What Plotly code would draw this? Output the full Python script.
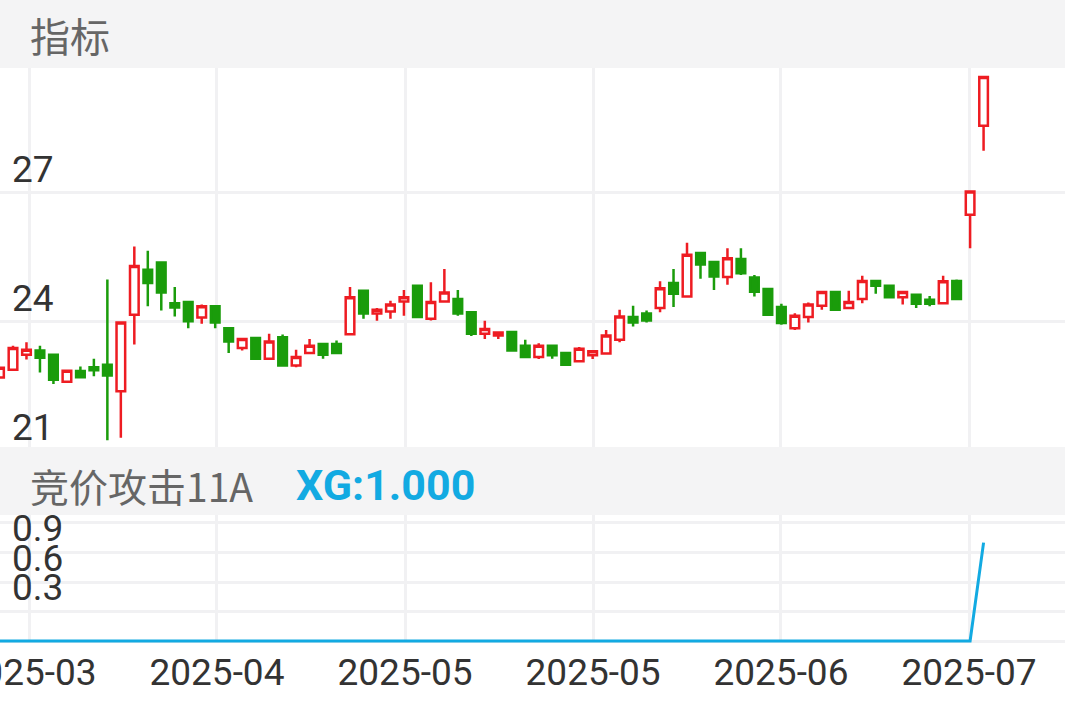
import plotly.graph_objects as go

# ---------------- data ----------------
candle_index = list(range(74))
opens = [22.70, 22.88, 23.23, 23.33, 23.23, 22.60, 22.85, 22.94, 23.00, 22.38,
         24.16, 25.21, 25.38, 24.43, 24.46, 24.10, 24.36, 23.85, 23.39, 23.62,
         23.14, 23.64, 22.98, 23.27, 23.48, 23.48, 23.71, 24.72, 24.19, 24.24,
         24.47, 24.84, 24.07, 24.47, 24.53, 24.22, 23.72, 23.68, 23.76, 23.44,
         23.18, 23.44, 23.27, 23.08, 23.22, 23.26, 23.58, 24.11, 24.19, 24.32,
         24.90, 24.59, 25.60, 25.39, 25.04, 25.46, 25.03, 24.76, 24.34, 23.85,
         24.11, 24.37, 24.69, 24.32, 24.53, 24.95, 24.84, 24.57, 24.63, 24.51,
         24.43, 24.95, 26.49, 28.56]
highs = [22.95, 23.44, 23.52, 23.44, 23.25, 22.87, 22.96, 23.14, 24.98, 24.00,
         25.75, 25.65, 25.40, 24.81, 24.47, 24.40, 24.37, 23.86, 23.61, 23.63,
         23.72, 23.70, 23.35, 23.60, 23.49, 23.56, 24.81, 24.73, 24.32, 24.49,
         24.74, 24.85, 24.92, 25.23, 24.74, 24.23, 24.02, 23.76, 23.77, 23.58,
         23.50, 23.45, 23.28, 23.41, 23.32, 23.81, 24.28, 24.37, 24.26, 24.94,
         25.23, 25.84, 25.61, 25.40, 25.71, 25.71, 25.09, 24.77, 24.42, 24.20,
         24.45, 24.70, 24.70, 24.72, 25.07, 24.96, 24.85, 24.70, 24.65, 24.60,
         25.07, 24.98, 27.04, 29.71]
lows = [22.68, 22.87, 23.12, 22.82, 22.55, 22.59, 22.70, 22.73, 21.24, 21.30,
        23.47, 24.36, 24.26, 24.12, 23.85, 23.95, 23.85, 23.27, 23.33, 23.13,
        23.13, 22.97, 22.94, 23.25, 23.14, 23.26, 23.70, 24.07, 24.02, 24.07,
        24.14, 24.10, 24.03, 24.45, 24.14, 23.67, 23.60, 23.60, 23.32, 23.17,
        23.13, 23.14, 22.99, 23.07, 23.13, 23.25, 23.52, 23.89, 23.98, 24.22,
        24.34, 24.58, 25.00, 24.74, 24.86, 25.09, 24.59, 24.14, 23.93, 23.81,
        23.98, 24.28, 24.27, 24.31, 24.43, 24.65, 24.56, 24.40, 24.32, 24.36,
        24.42, 24.51, 25.71, 27.98]
closes = [22.93, 23.39, 23.35, 23.16, 22.65, 22.86, 22.71, 22.87, 22.75, 23.98,
          25.30, 24.90, 24.68, 24.33, 24.01, 24.36, 23.98, 23.54, 23.60, 23.14,
          23.54, 22.98, 23.18, 23.44, 23.23, 23.27, 24.57, 24.19, 24.28, 24.40,
          24.57, 24.11, 24.46, 24.68, 24.19, 23.72, 23.83, 23.75, 23.33, 23.18,
          23.44, 23.22, 23.00, 23.37, 23.31, 23.68, 24.12, 23.98, 24.03, 24.78,
          24.65, 25.56, 25.33, 25.05, 25.48, 25.13, 24.70, 24.16, 23.97, 24.14,
          24.40, 24.69, 24.28, 24.46, 24.95, 24.84, 24.57, 24.69, 24.42, 24.42,
          24.94, 24.53, 27.03, 29.70]
xg_values = [0] * 73 + [1]

x_tick_positions = [2.19, 16.13, 30.08, 44.03, 57.97, 71.92]
x_tick_labels = ["2025-03", "2025-04", "2025-05", "2025-05", "2025-06", "2025-07"]
price_ticks = [21, 24, 27]
price_tick_labels = ["21", "24", "27"]
xg_ticks = [0, 0.3, 0.6, 0.9, 1.2]
xg_tick_labels = ["", "0.3", "0.6", "0.9", ""]

# ---------------- style ----------------
RED = "#ee1c22"
GREEN = "#1a9c0b"
BLUE = "#12aae2"
GRID = "#f1f1f3"
BAND = "#f4f4f5"
TICK_FONT = dict(family="Roboto, Noto Sans CJK SC", size=37, color="#333333")

fig = go.Figure()
fig.add_trace(go.Candlestick(
    x=candle_index, open=opens, high=highs, low=lows, close=closes,
    increasing=dict(line=dict(color=RED, width=2.5), fillcolor="#ffffff"),
    decreasing=dict(line=dict(color=GREEN, width=2.5), fillcolor=GREEN),
    whiskerwidth=0, xaxis="x", yaxis="y", showlegend=False, hoverinfo="skip",
))
fig.add_trace(go.Scatter(
    x=candle_index, y=xg_values, mode="lines",
    line=dict(color=BLUE, width=3), xaxis="x2", yaxis="y2",
    showlegend=False, hoverinfo="skip",
))

xr = [0.0356, 79.04]
common_x = dict(range=xr, showgrid=True, gridcolor=GRID, gridwidth=2.5,
                zeroline=False, showline=False, tickmode="array",
                tickvals=x_tick_positions, ticktext=x_tick_labels,
                rangeslider=dict(visible=False), fixedrange=True,
                automargin=False)

common_y = dict(showgrid=True, gridcolor=GRID, gridwidth=2.5, zeroline=False,
                showline=False, ticks="", ticklabelposition="inside",
                ticklabelshift=-24, ticklabeloverflow="allow", tickfont=TICK_FONT,
                automargin=False, tickmode="array", ticklabelstandoff=9,
                fixedrange=True)

fig.update_layout(
    width=1065, height=708,
    margin=dict(l=0, r=0, t=0, b=65, autoexpand=False),
    paper_bgcolor="#ffffff", plot_bgcolor="#ffffff",
    boxgap=0.2, boxgroupgap=0.2,
    xaxis=dict(**common_x, anchor="y", domain=[0, 1], showticklabels=False),
    xaxis2=dict(**common_x, anchor="y2", domain=[0, 1], matches="x",
                showticklabels=True, ticks="", tickfont=TICK_FONT,
                ticklabeloverflow="allow", ticklabelstandoff=4),
    yaxis=dict(**common_y, domain=[0.29860, 0.89425], range=[20.99, 29.907],
               anchor="x", tickvals=price_ticks, ticktext=price_tick_labels),
    yaxis2=dict(**common_y, domain=[0, 0.19907], range=[-0.0203, 1.2814],
                anchor="x2", tickvals=xg_ticks, ticktext=xg_tick_labels),
    shapes=[
        dict(type="rect", xref="paper", yref="paper", x0=0, x1=1,
             y0=0.89425, y1=1.0, fillcolor=BAND, line=dict(width=0), layer="above"),
        dict(type="rect", xref="paper", yref="paper", x0=0, x1=1,
             y0=0.19907, y1=0.30482, fillcolor=BAND, line=dict(width=0), layer="above"),
    ],
    annotations=[
        dict(text="指标", xref="paper", yref="paper", x=0.0263, y=0.9456,
             xanchor="left", yanchor="middle", showarrow=False,
             font=dict(family="Noto Sans CJK SC", size=40, color="#666666")),
        dict(text="竞价攻击11A", xref="paper", yref="paper", x=0.0263, y=0.2457,
             xanchor="left", yanchor="middle", showarrow=False,
             font=dict(family="Noto Sans CJK SC", size=39, color="#666666")),
        dict(text="<b>XG:1.000</b>", xref="paper", yref="paper", x=0.2765, y=0.2457,
             xanchor="left", yanchor="middle", showarrow=False,
             font=dict(family="Roboto", size=43, color=BLUE)),
    ],
)

fig.write_html("out.html", config={"displayModeBar": False},
               post_script="document.body.style.margin='0';")
